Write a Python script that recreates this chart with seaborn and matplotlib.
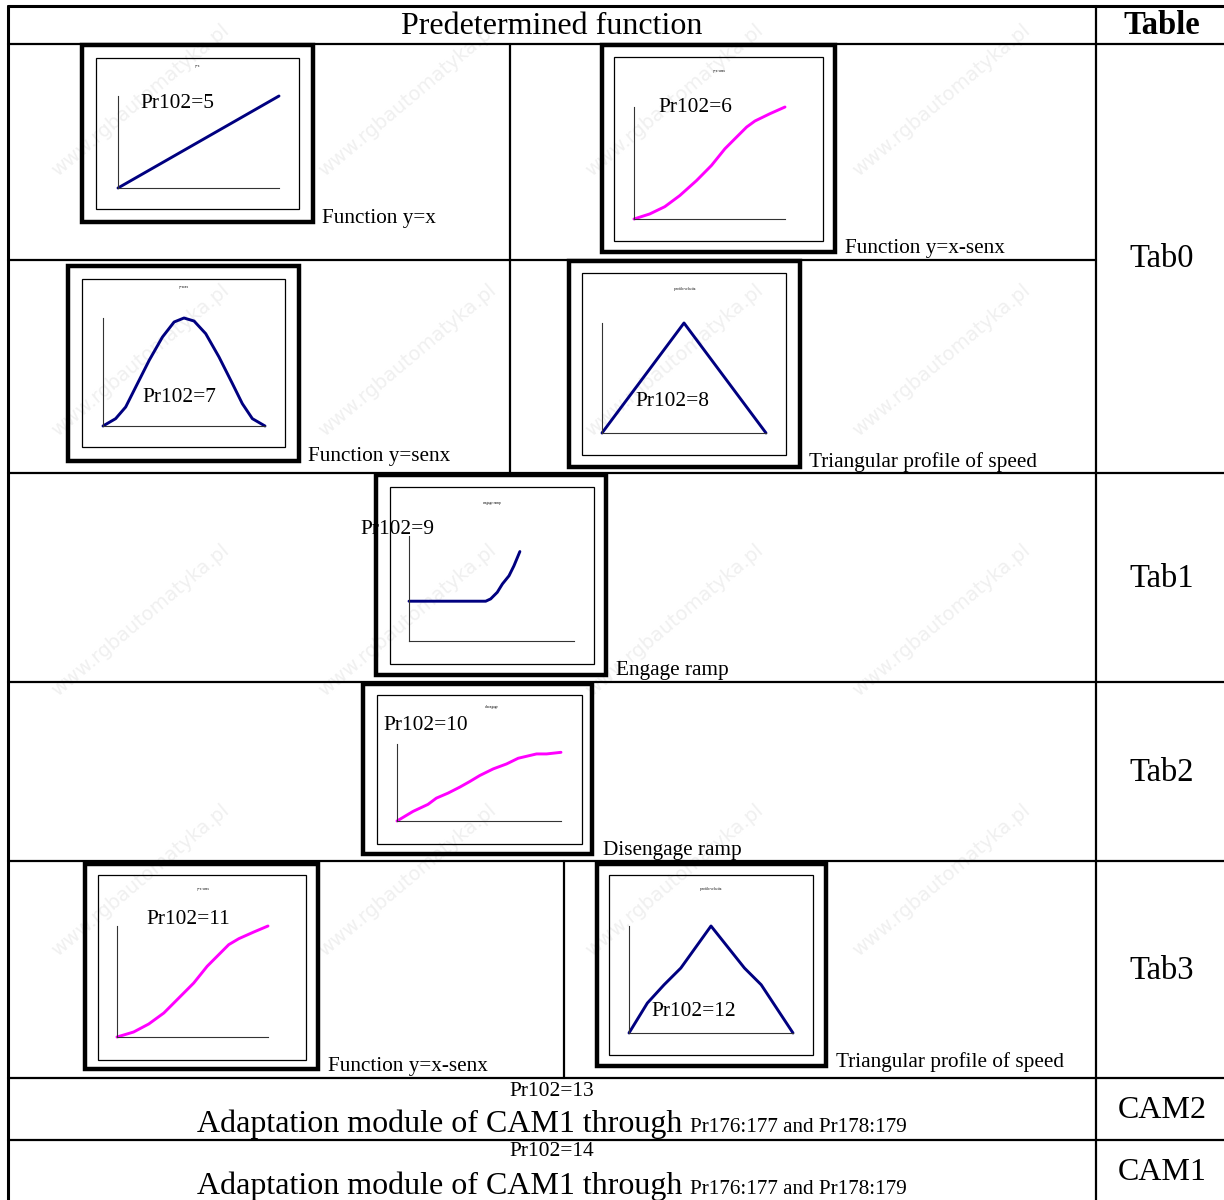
import matplotlib
matplotlib.use('Agg')
import matplotlib.pyplot as plt
import seaborn as sns
import pandas as pd
from matplotlib.patches import Rectangle

sns.set_style('white')
plt.rcParams['font.family'] = ['Liberation Serif', 'DejaVu Serif']
plt.rcParams['text.color'] = 'black'

# --- Daten der kleinen Kurven (normiert 0..1) ---
lin_x = [0.0, 1.0]
lin_y = [0.0, 1.0]

# y = x - sen x
xsen_x = [0.0, 0.104, 0.204, 0.303, 0.414, 0.513, 0.602, 0.679, 0.746, 0.801, 0.900, 1.0]
xsen_y = [0.0, 0.045, 0.110, 0.209, 0.343, 0.478, 0.627, 0.731, 0.821, 0.875, 0.940, 1.0]

# y = sen x (Glocke)
sen_x = [0.0, 0.078, 0.140, 0.202, 0.285, 0.367, 0.439, 0.500, 0.562, 0.634, 0.716, 0.799, 0.860, 0.922, 1.0]
sen_y = [0.0, 0.068, 0.176, 0.361, 0.608, 0.824, 0.963, 1.0, 0.972, 0.855, 0.639, 0.392, 0.207, 0.068, 0.0]

# Dreiecksprofil
tri_x = [0.0, 0.5, 1.0]
tri_y = [0.0, 1.0, 0.0]

# Engage ramp
eng_x = [0.0, 0.465, 0.495, 0.535, 0.566, 0.606, 0.636, 0.672]
eng_y = [0.379, 0.379, 0.401, 0.464, 0.543, 0.621, 0.716, 0.852]

# Disengage ramp
dis_x = [0.0, 0.098, 0.189, 0.240, 0.311, 0.383, 0.444, 0.505, 0.587, 0.668, 0.739, 0.851, 0.912, 1.0]
dis_y = [0.0, 0.125, 0.216, 0.297, 0.362, 0.440, 0.513, 0.591, 0.677, 0.741, 0.815, 0.871, 0.871, 0.892]

# y = x - sen x (Tab3)
xsen2_x = [0.0, 0.110, 0.210, 0.310, 0.409, 0.508, 0.597, 0.674, 0.740, 0.807, 0.906, 1.0]
xsen2_y = [0.0, 0.045, 0.117, 0.216, 0.351, 0.486, 0.637, 0.742, 0.832, 0.886, 0.946, 1.0]

# Dreieck mit Knicken (Tab3)
tri2_x = [0.0, 0.112, 0.214, 0.316, 0.500, 0.704, 0.806, 1.0]
tri2_y = [0.0, 0.280, 0.451, 0.607, 1.0, 0.607, 0.451, 0.0]

labels = ['Pr102=5', 'Pr102=6', 'Pr102=7', 'Pr102=8', 'Pr102=9', 'Pr102=10', 'Pr102=11', 'Pr102=12']
captions = ['Function y=x', 'Function y=x-senx', 'Function y=senx', 'Triangular profile of speed',
            'Engage ramp', 'Disengage ramp', 'Function y=x-senx', 'Triangular profile of speed']
mini_titles = ['y=x', 'y=x-senx', 'y=senx', 'profilo velocita', 'engage ramp',
               'disengage', 'y=x-senx', 'profilo velocita']
tab_names = ['Tab0', 'Tab1', 'Tab2', 'Tab3', 'CAM2', 'CAM1']

NAVY = '#000080'
MAGENTA = '#ff00ff'

W, H = 1224, 1200
fig = plt.figure(figsize=(W / 100, H / 100), dpi=100)
bg = fig.add_axes([0, 0, 1, 1])
bg.set_xlim(0, W)
bg.set_ylim(H, 0)
bg.axis('off')

# Wasserzeichen (nur vollständig sichtbare)
for wy in [100, 360, 620, 880]:
    for wx in [140, 407, 674, 941]:
        bg.text(wx, wy, 'www.rgbautomatyka.pl', rotation=40, fontsize=14,
                family='DejaVu Sans', color='#f0f0f0', ha='center', va='center', zorder=0)

# Tabellenlinien
lw = 1.6
bg.plot([8, W], [6, 6], color='black', lw=2.2)
bg.plot([8, W], [44, 44], color='black', lw=lw)
bg.plot([8, 8], [6, H], color='black', lw=2.2)
bg.plot([1096, 1096], [6, H], color='black', lw=lw)
bg.plot([8, 1096], [260, 260], color='black', lw=lw)
for yy in [473, 682, 861, 1078, 1140]:
    bg.plot([8, W], [yy, yy], color='black', lw=lw)
bg.plot([510, 510], [44, 473], color='black', lw=lw)
bg.plot([564, 564], [861, 1078], color='black', lw=lw)

# Kopfzeile
bg.text(552, 26, 'Predetermined function', fontsize=23, ha='center', va='center')
bg.text(1162, 26, 'Table', fontsize=23.5, fontweight='bold', ha='center', va='center')

for name, ty in zip(tab_names, [259, 579, 773, 971, 1110, 1172]):
    bg.text(1162, ty, name, fontsize=23.5 if name.startswith('Tab') else 23,
            ha='center', va='center')

# Mini-Diagramme: (aussen-Rahmen, innen-Rahmen, Achsen, Label-Pos, Caption-Pos, Titel-Pos)
charts = [
    dict(x=lin_x, y=lin_y, c=NAVY, outer=(82, 45, 313, 222), inner=(96, 58, 299, 209),
         axes=(118, 96, 279, 188), lab=(140, 104), cap=(322, 218), tit=(198, 66)),
    dict(x=xsen_x, y=xsen_y, c=MAGENTA, outer=(602, 45, 835, 252), inner=(614, 57, 823, 241),
         axes=(634, 107, 785, 219), lab=(658, 108), cap=(845, 248), tit=(719, 71)),
    dict(x=sen_x, y=sen_y, c=NAVY, outer=(68, 266, 299, 461), inner=(82, 279, 285, 447),
         axes=(103, 318, 265, 426), lab=(142, 397), cap=(308, 457), tit=(184, 287)),
    dict(x=tri_x, y=tri_y, c=NAVY, outer=(569, 261, 800, 467), inner=(582, 273, 786, 455),
         axes=(602, 323, 766, 433), lab=(635, 401), cap=(809, 462), tit=(685, 289)),
    dict(x=eng_x, y=eng_y, c=NAVY, outer=(376, 475, 606, 675), inner=(390, 487, 594, 664),
         axes=(409, 536, 574, 641), lab=(360, 530), cap=(616, 670), tit=(492, 503)),
    dict(x=dis_x, y=dis_y, c=MAGENTA, outer=(363, 684, 592, 854), inner=(377, 695, 582, 844),
         axes=(397, 744, 561, 821), lab=(383, 725), cap=(603, 850), tit=(492, 707)),
    dict(x=xsen2_x, y=xsen2_y, c=MAGENTA, outer=(85, 864, 318, 1069), inner=(98, 875, 306, 1060),
         axes=(117, 926, 268, 1037), lab=(146, 920), cap=(328, 1066), tit=(203, 889)),
    dict(x=tri2_x, y=tri2_y, c=NAVY, outer=(597, 864, 826, 1066), inner=(609, 875, 813, 1055),
         axes=(629, 926, 793, 1033), lab=(651, 1011), cap=(836, 1062), tit=(711, 889)),
]

for ch, lab, cap, tit in zip(charts, labels, captions, mini_titles):
    ox0, oy0, ox1, oy1 = ch['outer']
    bg.add_patch(Rectangle((ox0, oy0), ox1 - ox0, oy1 - oy0, fill=False,
                           edgecolor='black', lw=3.2, zorder=2))
    ix0, iy0, ix1, iy1 = ch['inner']
    bg.add_patch(Rectangle((ix0, iy0), ix1 - ix0, iy1 - iy0, fill=False,
                           edgecolor='black', lw=0.9, zorder=3))
    bg.text(ch['tit'][0], ch['tit'][1], tit, fontsize=2.5, ha='center', va='center', zorder=4)

    ax0, ay0, ax1, ay1 = ch['axes']
    ax = fig.add_axes([ax0 / W, 1 - ay1 / H, (ax1 - ax0) / W, (ay1 - ay0) / H])
    ax.patch.set_alpha(0)
    df = pd.DataFrame({'x': ch['x'], 'y': ch['y']})
    sns.lineplot(data=df, x='x', y='y', ax=ax, color=ch['c'], lw=2.1, sort=False,
                 estimator=None, clip_on=False)
    ax.set_xlim(0, 1)
    ax.set_ylim(0, 1)
    ax.set_xticks([])
    ax.set_yticks([])
    ax.set_xlabel('')
    ax.set_ylabel('')
    for s in ['top', 'right']:
        ax.spines[s].set_visible(False)
    for s in ['left', 'bottom']:
        ax.spines[s].set_color('#333333')
        ax.spines[s].set_linewidth(0.8)

    bg.text(ch['lab'][0], ch['lab'][1], lab, fontsize=15.4, ha='left', va='center', zorder=6)
    bg.text(ch['cap'][0], ch['cap'][1], cap, fontsize=15.3, ha='left', va='center', zorder=6)

# Textlabels über die Rahmen legen
for t in bg.texts:
    if t.get_color() != '#f0f0f0':
        t.set_zorder(10)

# Untere Zeilen (CAM)
for num, py, base in [('13', 1091, 1132), ('14', 1152, 1194)]:
    bg.text(552, py, 'Pr102=' + num, fontsize=15.5, ha='center', va='center')
    bg.text(682, base, 'Adaptation module of CAM1 through', fontsize=23,
            ha='right', va='baseline')
    bg.text(690, base, 'Pr176:177 and Pr178:179', fontsize=15.2,
            ha='left', va='baseline')

fig.savefig('out.png', dpi=100)
